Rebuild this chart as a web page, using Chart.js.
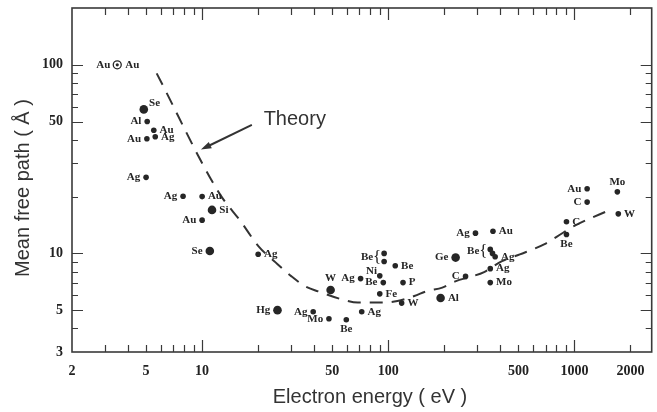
<!DOCTYPE html>
<html lang="en">
<head>
<meta charset="UTF-8">
<title>Mean free path</title>
<script src="https://cdn.jsdelivr.net/npm/chart.js"></script>
<style>
  body { margin: 0; background: #fff; }
  #wrap { width: 657px; height: 412px; position: relative; }
</style>
</head>
<body>
<div id="wrap"><canvas id="chart"></canvas></div>
<script>
  // measured points: energy (eV), mean free path (angstrom), element
  const energy = [4.86, 5.07, 5.5, 5.6, 5.05, 5.0, 7.9, 10, 11.3, 10, 11, 20,
    25.4, 39.5, 48, 49, 59.5, 72, 71, 90, 94, 90, 95, 95, 109, 120, 118,
    191, 230, 260, 294, 365, 353, 363, 375, 353, 353, 906, 906, 1170, 1170, 1700, 1720];
  const path = [58, 50, 45, 41.5, 40.5, 25.3, 20.1, 20, 17, 15, 10.3, 9.9,
    5.0, 4.9, 4.5, 6.4, 4.45, 4.9, 7.35, 7.6, 7.0, 6.1, 10, 9.05, 8.6, 7.0, 5.45,
    5.8, 9.5, 7.55, 12.8, 13.1, 10.5, 10.0, 9.6, 8.3, 7.0, 14.7, 12.6, 22, 18.7, 21.2, 16.2];
  const element = ['Se', 'Al', 'Au', 'Ag', 'Au', 'Ag', 'Ag', 'Au', 'Si', 'Au', 'Se', 'Ag',
    'Hg', 'Ag', 'Mo', 'W', 'Be', 'Ag', 'Ag', 'Ni', 'Be', 'Fe', 'Be', '', 'Be', 'P', 'W',
    'Al', 'Ge', 'C', 'Ag', 'Au', 'Be', '', 'Ag', 'Ag', 'Mo', 'C', 'Be', 'Au', 'C', 'Mo', 'W'];

  // the Au point drawn as a ringed dot
  const ringEnergy = [3.5];
  const ringPath = [100];
  const ringElement = ['Au'];

  // dashed theory curve
  const theoryEnergy = [5.7, 12.3, 16.1, 20.1, 24.8, 30.2, 35.8, 42, 57.2, 68.7, 95.7, 112,
    138, 162, 195, 229, 282, 327, 408, 509, 691, 987, 1613];
  const theoryPath = [90, 21.0, 14.8, 10.9, 8.96, 7.55, 6.69, 6.29, 5.68, 5.49, 5.49, 5.59,
    5.94, 6.32, 6.58, 7.11, 7.55, 7.96, 9.1, 9.88, 11.2, 13.9, 17.3];

  const xTickLabels = [2, 5, 10, 50, 100, 500, 1000, 2000];
  const yTickLabels = [3, 5, 10, 50, 100];
  const xMajor = [10, 100, 1000];
  const xMinor = [3, 4, 5, 6, 7, 8, 9, 20, 30, 40, 50, 60, 70, 80, 90,
    200, 300, 400, 500, 600, 700, 800, 900, 2000];
  const yMajor = [5, 10, 50, 100];
  const yMinor = [4, 6, 7, 8, 9, 20, 30, 40, 60, 70, 80, 90];

  // where each label sits relative to its dot, and which dots are large
  const side = ['ur', 'l', 'r', 'r', 'l', 'l', 'l', 'r', 'r', 'l', 'l', 'r',
    'l', 'l', 'l', 'u', 'd', 'r', 'l', 'ul', 'l', 'r', 'b', '', 'r', 'r', 'r',
    'r', 'l', 'l', 'l', 'r', 'b', '', 'r', 'r', 'r', 'r', 'd', 'l', 'l', 'u', 'r'];
  const big = [1, 0, 0, 0, 0, 0, 0, 0, 1, 0, 1, 0,
    1, 0, 0, 1, 0, 0, 0, 0, 0, 0, 0, 0, 0, 0, 0,
    1, 1, 0, 0, 0, 0, 0, 0, 0, 0, 0, 0, 0, 0, 0, 0];

  const ink = '#262626';
  const labelFont = 'bold 11px "Liberation Serif", "Times New Roman", serif';

  function labelPoint(ctx, pt, name, where, r, next) {
    let tx = pt.x, ty = pt.y;
    ctx.textBaseline = 'middle';
    if (where === 'l') { ctx.textAlign = 'right'; tx -= r + 3; }
    else if (where === 'r') { ctx.textAlign = 'left'; tx += r + 3; }
    else if (where === 'u') { ctx.textAlign = 'center'; ty -= r + 7; }
    else if (where === 'd') { ctx.textAlign = 'center'; ty += r + 7; }
    else if (where === 'ur') { ctx.textAlign = 'left'; tx += r + 1; ty -= 6; }
    else if (where === 'ul') { ctx.textAlign = 'right'; tx -= r; ty -= 5; }
    else if (where === 'b') {
      // brace grouping two stacked dots
      ty = (pt.y + next.y) / 2;
      ctx.textAlign = 'center';
      ctx.font = '17px "Liberation Serif", serif';
      ctx.fillText('{', pt.x - 7, ty);
      ctx.font = labelFont;
      ctx.textAlign = 'right';
      tx -= 11;
    }
    ctx.fillText(name, tx, ty);
  }

  const decorations = {
    id: 'decorations',
    afterDatasetsDraw(chart) {
      const { ctx, scales: { x, y } } = chart;
      ctx.save();
      ctx.fillStyle = ink;
      ctx.font = labelFont;

      const pts = chart.getDatasetMeta(1).data;
      pts.forEach((pt, i) => {
        if (!element[i]) return;
        labelPoint(ctx, pt, element[i], side[i], big[i] ? 4.3 : 2.8, pts[i + 1]);
      });
      chart.getDatasetMeta(2).data.forEach((pt, i) => {
        labelPoint(ctx, pt, ringElement[i], 'l', 4, null);
        labelPoint(ctx, pt, ringElement[i], 'r', 5, null);
      });

      // arrow pointing at the theory curve
      const x0 = x.getPixelForValue(18.5), y0 = y.getPixelForValue(48);
      const x1 = x.getPixelForValue(9.85), y1 = y.getPixelForValue(35.5);
      const ang = Math.atan2(y1 - y0, x1 - x0);
      ctx.strokeStyle = '#333';
      ctx.lineWidth = 2;
      ctx.beginPath();
      ctx.moveTo(x0, y0);
      ctx.lineTo(x1 - 6 * Math.cos(ang), y1 - 6 * Math.sin(ang));
      ctx.stroke();
      ctx.fillStyle = '#333';
      ctx.beginPath();
      ctx.moveTo(x1, y1);
      ctx.lineTo(x1 - 11 * Math.cos(ang - 0.32), y1 - 11 * Math.sin(ang - 0.32));
      ctx.lineTo(x1 - 11 * Math.cos(ang + 0.32), y1 - 11 * Math.sin(ang + 0.32));
      ctx.closePath();
      ctx.fill();

      ctx.font = '20px "Liberation Sans", Arial, sans-serif';
      ctx.textAlign = 'left';
      ctx.textBaseline = 'alphabetic';
      ctx.fillText('Theory', x.getPixelForValue(21.4), y.getPixelForValue(48));
      ctx.restore();
    },
    afterDraw(chart) {
      const { ctx, chartArea: a, scales: { x, y } } = chart;
      ctx.save();
      ctx.strokeStyle = '#3a3a3a';
      ctx.lineWidth = 1.2;
      ctx.beginPath();
      const tick = (vals, len) => {
        vals.forEach(v => {
          const px = Math.round(x.getPixelForValue(v)) + 0.5;
          ctx.moveTo(px, a.bottom); ctx.lineTo(px, a.bottom - len);
          ctx.moveTo(px, a.top); ctx.lineTo(px, a.top + len);
        });
      };
      const ytick = (vals, len) => {
        vals.forEach(v => {
          const py = Math.round(y.getPixelForValue(v)) + 0.5;
          ctx.moveTo(a.left, py); ctx.lineTo(a.left + len, py);
          ctx.moveTo(a.right, py); ctx.lineTo(a.right - len, py);
        });
      };
      tick(xMinor, 7);
      tick(xMajor, 12);
      ytick(yMinor, 6);
      ytick(yMajor, 11);
      ctx.stroke();

      ctx.lineWidth = 1.6;
      ctx.strokeRect(a.left, a.top, a.right - a.left, a.bottom - a.top);

      // axis titles
      ctx.fillStyle = '#333';
      ctx.textAlign = 'center';
      ctx.textBaseline = 'middle';
      ctx.font = '20px "Liberation Sans", Arial, sans-serif';
      ctx.fillText('Electron energy ( eV )', 370, 397);
      ctx.translate(23, 188);
      ctx.rotate(-Math.PI / 2);
      ctx.fillText('Mean free path ( Å )', 0, 0);
      ctx.restore();
    }
  };

  const tickFont = { family: '"Liberation Serif", "Times New Roman", serif', size: 14, weight: 'bold' };

  new Chart(document.getElementById('chart'), {
    type: 'scatter',
    data: {
      datasets: [
        {
          data: theoryEnergy.map((e, i) => ({ x: e, y: theoryPath[i] })),
          showLine: true,
          borderColor: '#333',
          borderWidth: 2,
          borderDash: [13, 9],
          cubicInterpolationMode: 'monotone',
          pointRadius: 0,
          fill: false,
          order: 4
        },
        {
          data: energy.map((e, i) => ({ x: e, y: path[i] })),
          backgroundColor: ink,
          borderWidth: 0,
          pointRadius: big.map(b => b ? 4.3 : 2.8),
          order: 3
        },
        {
          // ring first, centre dot drawn over it
          data: ringEnergy.map((e, i) => ({ x: e, y: ringPath[i] })),
          backgroundColor: '#fff',
          borderColor: ink,
          borderWidth: 1.3,
          pointRadius: 4,
          order: 2
        },
        {
          data: ringEnergy.map((e, i) => ({ x: e, y: ringPath[i] })),
          backgroundColor: ink,
          borderWidth: 0,
          pointRadius: 1.6,
          order: 1
        }
      ]
    },
    options: {
      responsive: true,
      maintainAspectRatio: false,
      animation: false,
      layout: { padding: { top: 8, right: 1, left: 0, bottom: 0 } },
      plugins: { legend: { display: false }, tooltip: { enabled: false } },
      scales: {
        x: {
          type: 'logarithmic',
          min: 2,
          max: 2600,
          grid: { display: false, drawTicks: false },
          border: { display: false },
          afterBuildTicks: s => { s.ticks = xTickLabels.map(v => ({ value: v })); },
          afterFit: s => { s.height = 60; s.paddingLeft = 0; s.paddingRight = 0; },
          ticks: {
            callback: v => String(v),
            autoSkip: false,
            maxRotation: 0,
            padding: 11,
            color: '#222',
            font: tickFont
          }
        },
        y: {
          type: 'logarithmic',
          min: 3,
          max: 200,
          grid: { display: false, drawTicks: false },
          border: { display: false },
          afterBuildTicks: s => { s.ticks = yTickLabels.map(v => ({ value: v })); },
          afterFit: s => { s.width = 72; s.paddingTop = 0; s.paddingBottom = 0; },
          ticks: {
            callback: v => String(v),
            autoSkip: false,
            padding: 9,
            color: '#222',
            font: tickFont
          }
        }
      }
    },
    plugins: [decorations]
  });
</script>
</body>
</html>
